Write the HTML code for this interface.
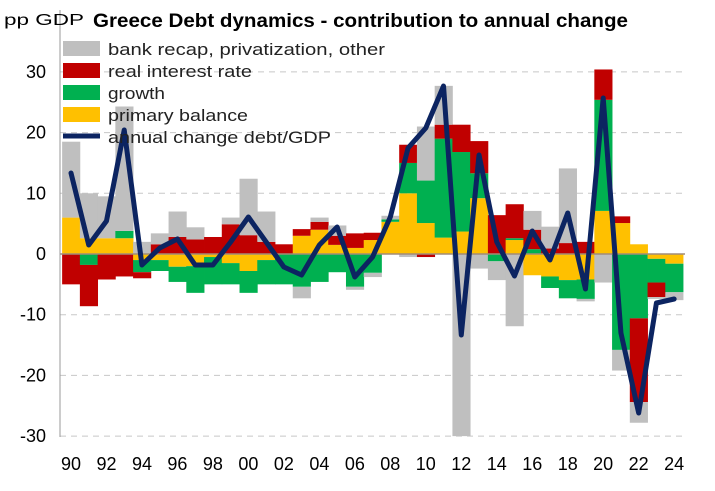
<!DOCTYPE html>
<html><head><meta charset="utf-8"><style>
body{margin:0;background:#fff;}
svg{display:block;font-family:"Liberation Sans",sans-serif;}
</style></head><body>
<svg id="c" width="715" height="491" viewBox="0 0 715 491" xmlns="http://www.w3.org/2000/svg">
<g id="grid"></g>
<g id="bars"></g>
<line x1="60" y1="254" x2="685" y2="254" stroke="#a08c78" stroke-width="1.5"/>
<line x1="60" y1="10" x2="60" y2="437" stroke="#999" stroke-width="1"/>
<g id="ylab" font-size="18" fill="#000" text-anchor="end"></g>
<g id="xlab" font-size="18" fill="#000" text-anchor="middle"></g>
<polyline id="ln" fill="none" stroke="#0c2461" stroke-width="5" stroke-linejoin="round" stroke-linecap="round"/>
<text x="4" y="25" font-size="16" textLength="80" lengthAdjust="spacingAndGlyphs">pp GDP</text>
<text x="93" y="27" font-size="19" font-weight="bold" textLength="535" lengthAdjust="spacingAndGlyphs">Greece Debt dynamics - contribution to annual change</text>
<g font-size="17" fill="#222">
<rect x="63" y="41" width="37" height="15" fill="#bfbfbf"/><text x="108" y="55" textLength="277" lengthAdjust="spacingAndGlyphs">bank recap, privatization, other</text>
<rect x="63" y="63" width="37" height="15" fill="#c00000"/><text x="108" y="77" textLength="144" lengthAdjust="spacingAndGlyphs">real interest rate</text>
<rect x="63" y="85" width="37" height="15" fill="#00b050"/><text x="108" y="99" textLength="57" lengthAdjust="spacingAndGlyphs">growth</text>
<rect x="63" y="107" width="37" height="15" fill="#ffc000"/><text x="108" y="121" textLength="140" lengthAdjust="spacingAndGlyphs">primary balance</text>
<line x1="63" y1="136" x2="100" y2="136" stroke="#0c2461" stroke-width="5"/><text x="108" y="143" textLength="223" lengthAdjust="spacingAndGlyphs">annual change debt/GDP</text>
</g>
</svg>
<script>
var NS="http://www.w3.org/2000/svg";
function el(t,a,p){var e=document.createElementNS(NS,t);for(var k in a)e.setAttribute(k,a[k]);document.getElementById(p).appendChild(e);return e;}
var Z=254,S=6.07,X0=71,DX=17.74,W=17.74;
[30,20,10,-10,-20,-30].forEach(function(v){var y=Z-v*S;el('line',{x1:60,x2:685,y1:y,y2:y,stroke:'#c8c8c8','stroke-dasharray':'6,5','stroke-width':1},'grid');});
[30,20,10,0,-10,-20,-30].forEach(function(v){var t=el('text',{x:46,y:Z-v*S+6},'ylab');t.textContent=v;});
for(var yr=1990;yr<=2024;yr+=2){var t=el('text',{x:X0+(yr-1990)*DX,y:470},'xlab');t.textContent=String(yr).slice(2);}
var C=['#ffc000','#00b050','#c00000','#bfbfbf'];
var D=[
[6,0,-5,12.5],[2.6,-1.8,-6.8,7.4],[2.6,0,-4.2,6.9],[2.6,1.2,-3.7,20.5],[-1,-2,-1,2],
[-1,-1.8,1.6,1.8],[-2.1,-2.5,2.8,4.2],[-2,-4.4,2.4,2],[-0.5,-4.5,2.8,0],[-1.5,-3.5,4.9,1.1],
[-2.8,-3.6,3.1,9.3],[-1,-4,2,5],[0,-5,1.6,0],[3,-5.4,1.1,-1.9],[4,-4.6,1.3,0.7],
[1.5,-3,1.5,1.7],[1,-5.4,2.4,-0.5],[2.3,-3.1,1.2,-0.7],[5.3,0.4,0,0.6],[10,5,3,-0.5],
[5.1,7,-0.5,8.9],[2.7,16.3,2.3,6.4],[3.7,13.1,4.5,-30],[9.2,4.1,5.3,-2.4],[0,-1.2,6.4,-3.1],
[2.3,0.3,5.6,-11.9],[-3.5,0.8,3.2,3.1],[-3.7,-1.9,0.9,3.6],[-4.3,-3,1.8,12.3],[-4.2,-3.2,2,-0.4],
[7.1,18.3,5,-4.7],[5.1,-15.8,1.1,-3.4],[1.6,-10.6,-13.8,-3.4],[-0.8,-3.9,-2.4,-0.3],[-1.6,-4.7,0,-1.3]];
D.forEach(function(d,i){var x=X0+i*DX-W/2,p=0,n=0;
 d.forEach(function(v,j){if(v>0){el('rect',{x:x,y:Z-(p+v)*S,width:W+0.4,height:v*S,fill:C[j]},'bars');p+=v;}
 else if(v<0){el('rect',{x:x,y:Z-n*S,width:W+0.4,height:-v*S,fill:C[j]},'bars');n+=v;}});});
var L=[173,245,221,130,265,248,239,265,265,242,217,242,267,275,245,227,277,257,217,148,128,86,335,155,242,276,231,260,213,289,98,333,413,303,299];
document.getElementById('ln').setAttribute('points',L.map(function(y,i){return (X0+i*DX)+','+y;}).join(' '));
</script>
</body></html>
